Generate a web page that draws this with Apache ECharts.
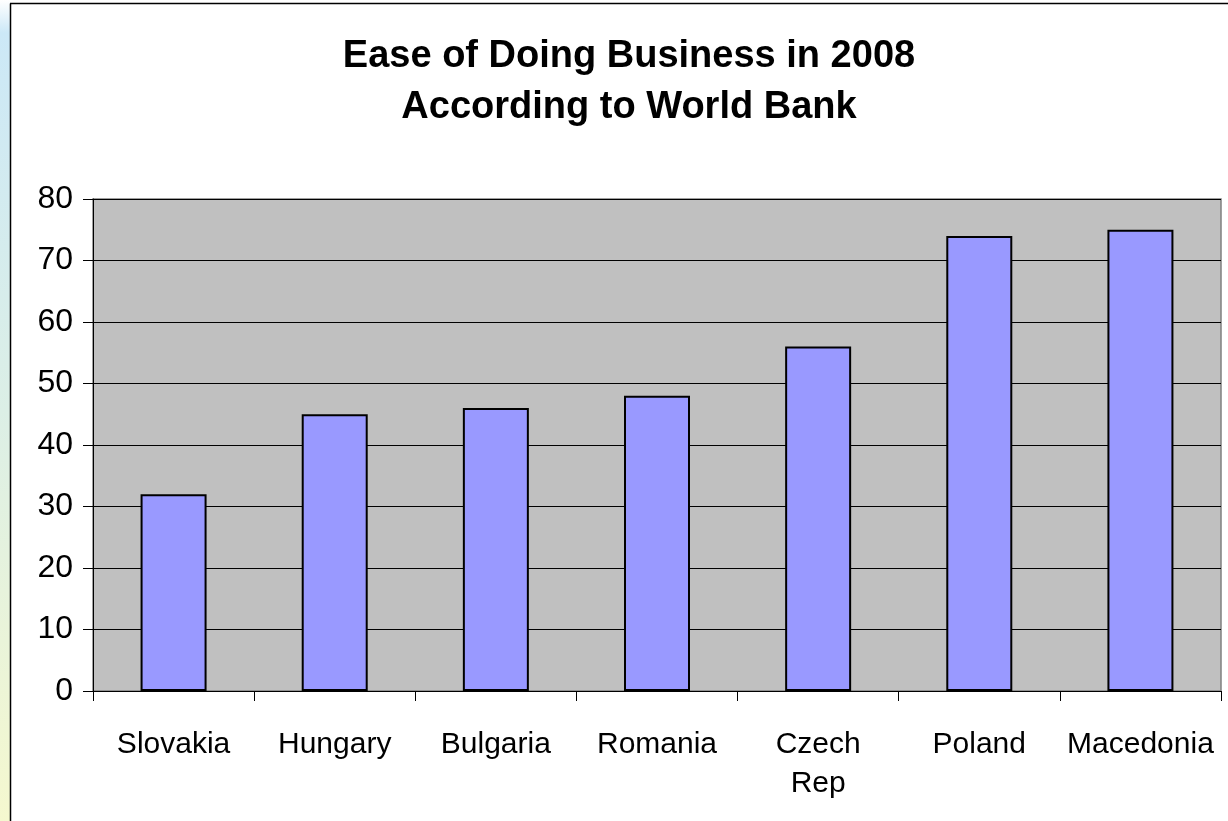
<!DOCTYPE html>
<html>
<head>
<meta charset="utf-8">
<script src="https://cdn.jsdelivr.net/npm/echarts@6/dist/echarts.min.js"></script>
<style>
html,body{margin:0;padding:0;background:#fff;}
#chart{width:1228px;height:821px;}
</style>
</head>
<body>
<div id="chart"></div>
<script>
const titleLines = ['Ease of Doing Business in 2008', 'According to World Bank'];
const categories = ['Slovakia', 'Hungary', 'Bulgaria', 'Romania', 'Czech\nRep', 'Poland', 'Macedonia'];
const values = [32, 45, 46, 48, 56, 74, 75];
const yMin = 0, yMax = 80, yInterval = 10;

const chart = echarts.init(document.getElementById('chart'), null, {renderer: 'canvas'});
const font = '"Liberation Sans", Arial, sans-serif';
chart.setOption({
  animation: false,
  backgroundColor: '#fff',
  graphic: [
    {type: 'rect', z: -10, shape: {x: 0, y: 0, width: 10, height: 821},
     style: {fill: new echarts.graphic.LinearGradient(0, 0, 0, 1, [
       {offset: 0, color: '#ffffff'}, {offset: 0.04, color: '#cce8f7'},
       {offset: 0.5, color: '#dcefe6'}, {offset: 1, color: '#f5f8cf'}])}},
    {type: 'line', z: 10, shape: {x1: 10.5, y1: 3.5, x2: 10.5, y2: 821}, style: {stroke: '#000', lineWidth: 1.5}},
    {type: 'line', z: 10, shape: {x1: 10, y1: 3.5, x2: 1228, y2: 3.5}, style: {stroke: '#000', lineWidth: 1.5}},
    {type: 'text', x: 629, y: 31, z: 20,
     style: {text: titleLines.join('\n'), textAlign: 'center', textVerticalAlign: 'top',
       font: 'bold 38px ' + font, lineHeight: 51, fill: '#000'}}
  ],
  grid: {left: 93, right: 7, top: 199, bottom: 130, show: true, backgroundColor: '#c0c0c0',
    borderColor: '#808080', borderWidth: 1.5},
  xAxis: {
    type: 'category', data: categories,
    axisLine: {lineStyle: {color: '#000', width: 1}},
    axisTick: {show: true, alignWithLabel: false, length: 10, lineStyle: {color: '#000'}},
    axisLabel: {color: '#000', fontSize: 30, fontFamily: font, margin: 34, lineHeight: 39, interval: 0}
  },
  yAxis: {
    type: 'value', min: yMin, max: yMax, interval: yInterval,
    axisLine: {show: true, lineStyle: {color: '#000', width: 1}},
    axisTick: {show: true, length: 10, lineStyle: {color: '#000'}},
    axisLabel: {color: '#000', fontSize: 32, fontFamily: font, margin: 20},
    splitLine: {show: true, lineStyle: {color: '#000', width: 1}}
  },
  series: [{
    type: 'bar', data: values, barWidth: 66,
    itemStyle: {color: '#9999ff', borderColor: '#000', borderWidth: 2}
  }]
});
</script>
</body>
</html>
